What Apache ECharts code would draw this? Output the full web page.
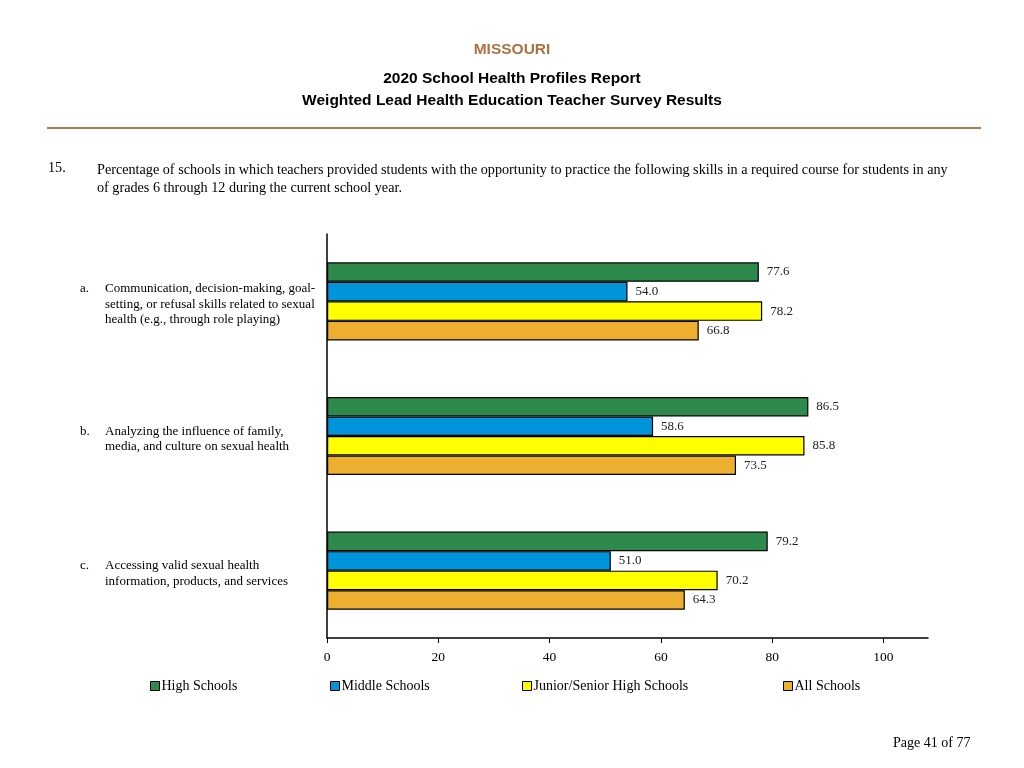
<!DOCTYPE html>
<html><head><meta charset="utf-8">
<script src="https://cdn.jsdelivr.net/npm/echarts@6/dist/echarts.min.js"></script>
<style>html,body{margin:0;padding:0;background:#fff}#c{width:1024px;height:768px}</style>
</head><body><div id="c"></div>
<script>
const letters = ['a.', 'b.', 'c.'];
const categories = [
  ['Communication, decision-making, goal-', 'setting, or refusal skills related to sexual', 'health (e.g., through role playing)'],
  ['Analyzing the influence of family,', 'media, and culture on sexual health'],
  ['Accessing valid sexual health', 'information, products, and services']
];
const seriesNames = ['High Schools', 'Middle Schools', 'Junior/Senior High Schools', 'All Schools'];
const highSchools = [77.6, 86.5, 79.2];
const middleSchools = [54.0, 58.6, 51.0];
const juniorSenior = [78.2, 85.8, 70.2];
const allSchools = [66.8, 73.5, 64.3];
const xTicks = [0, 20, 40, 60, 80, 100];
const colors = ['#2E8A4C', '#0095DA', '#FFFF00', '#EEAF30'];
const values = [highSchools, middleSchools, juniorSenior, allSchools];
const serif = '"Liberation Serif", "DejaVu Serif", serif';
const sans = '"Liberation Sans", Arial, sans-serif';

const chart = echarts.init(document.getElementById('c'));
const catKeys = categories.map((c, i) => String(i));
const legendLefts = [150, 330, 522, 783];

chart.setOption({
  animation: false,
  backgroundColor: '#fff',
  title: [
    {text: 'MISSOURI', left: 'center', top: 42, padding: 0, textStyle: {fontFamily: sans, fontSize: 15.5, fontWeight: 'bold', color: '#B0703E'}},
    {text: '2020 School Health Profiles Report', left: 'center', top: 71, padding: 0,
     textStyle: {fontFamily: sans, fontSize: 15.5, fontWeight: 'bold', color: '#000'}},
    {text: 'Weighted Lead Health Education Teacher Survey Results', left: 'center', top: 93, padding: 0,
     textStyle: {fontFamily: sans, fontSize: 15.5, fontWeight: 'bold', color: '#000'}}
  ],
  graphic: [
    {type: 'line', shape: {x1: 47, y1: 128, x2: 981, y2: 128}, style: {stroke: '#B07A4A', lineWidth: 2}},
    {type: 'text', left: 48, top: 161, style: {text: '15.', font: '14.2px ' + serif, fill: '#000'}},
    {type: 'text', left: 97, top: 161, style: {text: 'Percentage of schools in which teachers provided students with the opportunity to practice the following skills in a required course for students in any\nof grades 6 through 12 during the current school year.', font: '14.2px ' + serif, fill: '#000', lineHeight: 18}},
    {type: 'text', left: 893, top: 736, style: {text: 'Page 41 of 77', font: '14px ' + serif, fill: '#000'}}
  ],
  legend: seriesNames.map((n, i) => ({
    data: [n], left: legendLefts[i], top: 679, padding: 0, itemWidth: 9, itemHeight: 9, itemGap: 2,
    icon: 'rect', textStyle: {fontFamily: serif, fontSize: 14, color: '#000', padding: [0, 0, 0, -3]},
    itemStyle: {borderColor: '#000', borderWidth: 1}
  })),
  grid: {left: 327, right: 96, top: 234, bottom: 130, containLabel: false},
  xAxis: {
    type: 'value', min: 0, max: 108, interval: 20,
    axisLine: {show: true, lineStyle: {color: '#000', width: 1.5}},
    axisTick: {show: true, length: 5, customValues: xTicks, lineStyle: {color: '#000'}},
    axisLabel: {customValues: xTicks, fontFamily: serif, fontSize: 13.5, color: '#000', margin: 12},
    splitLine: {show: false}
  },
  yAxis: {
    type: 'category', inverse: true, data: catKeys,
    axisLine: {show: true, lineStyle: {color: '#000', width: 1.5}},
    axisTick: {show: false},
    axisLabel: {
      align: 'left', margin: 247, padding: [6, 0, 0, 0],
      formatter: (v) => {
        const i = Number(v);
        return categories[i].map((line, k) => '{n|' + (k === 0 ? letters[i] : '') + '}{t|' + line + '}').join('\n');
      },
      rich: {
        n: {width: 25, fontFamily: serif, fontSize: 13, color: '#000', lineHeight: 15.5},
        t: {fontFamily: serif, fontSize: 13, color: '#000', lineHeight: 15.5}
      }
    }
  },
  series: seriesNames.map((n, i) => ({
    name: n, type: 'bar', data: values[i], barGap: '0%', barCategoryGap: '42%',
    itemStyle: {color: colors[i], borderColor: '#000', borderWidth: 1.2},
    label: {show: true, position: 'right', distance: 8, formatter: p => p.value.toFixed(1),
      fontFamily: serif, fontSize: 13, color: '#222'}
  }))
});
</script></body></html>
